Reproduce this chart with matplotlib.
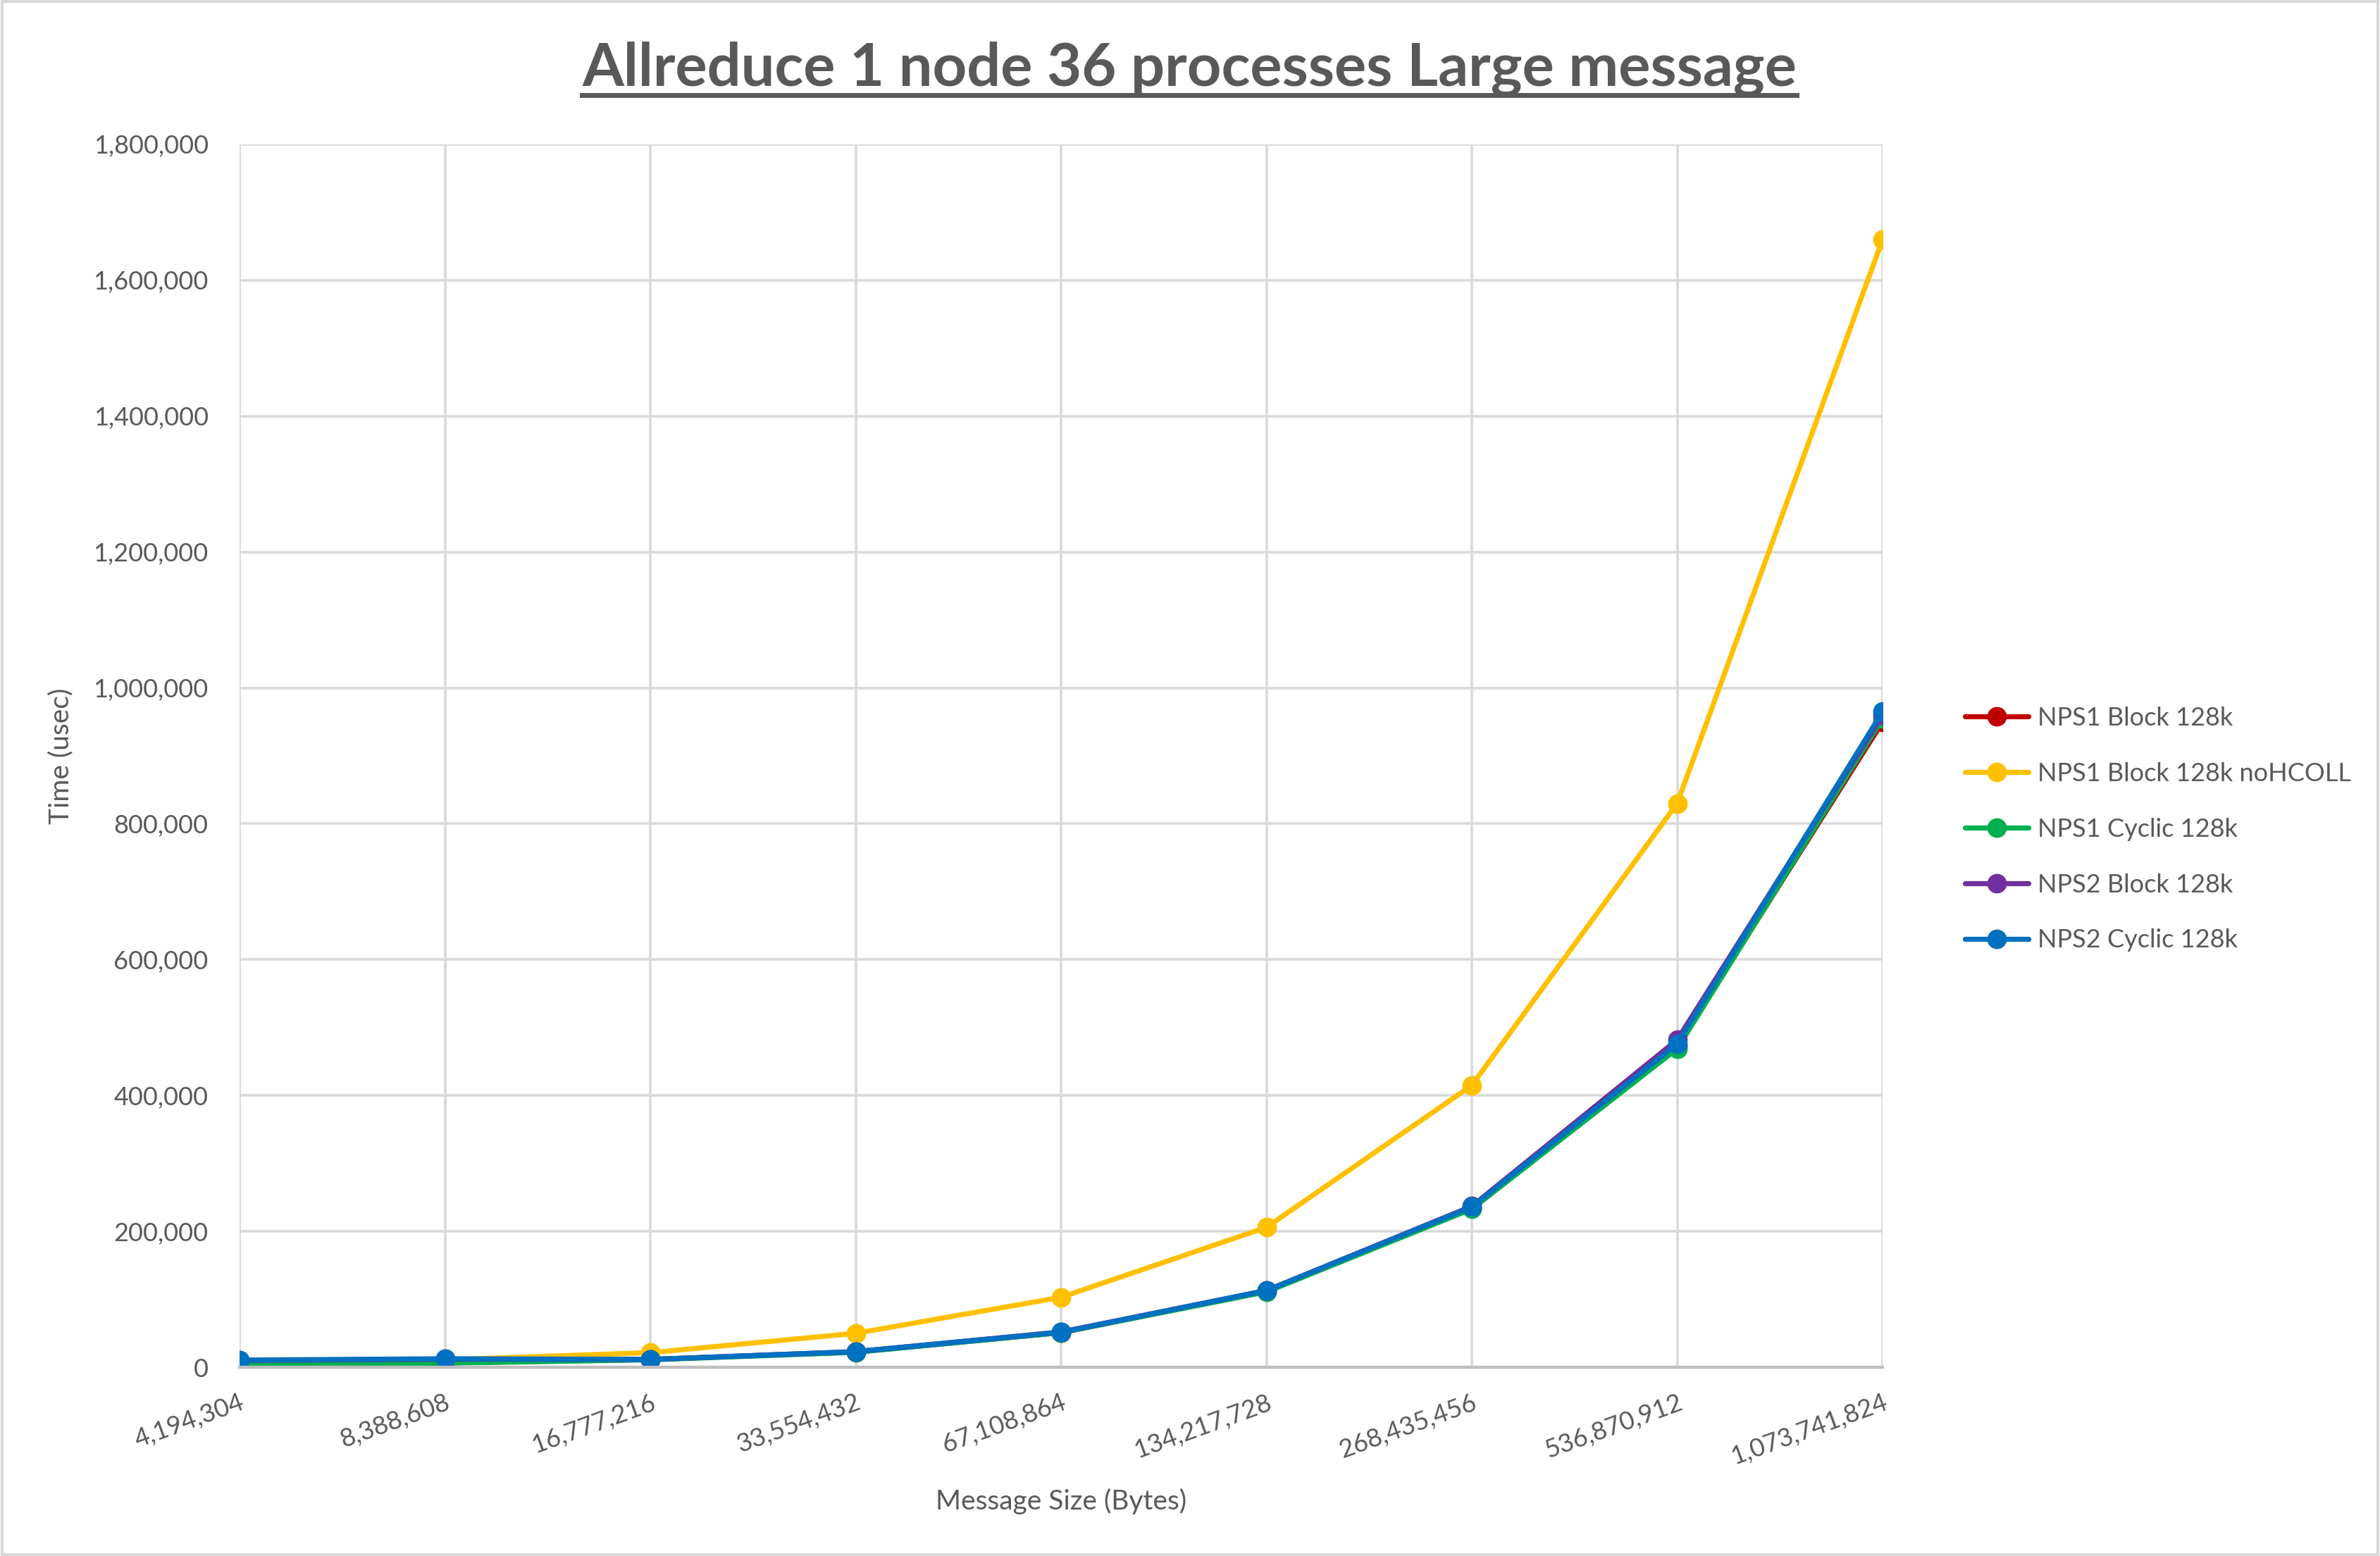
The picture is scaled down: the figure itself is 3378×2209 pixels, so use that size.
import numpy as np
import matplotlib.pyplot as plt
from matplotlib.lines import Line2D
from matplotlib.patches import Rectangle
from matplotlib.ticker import FuncFormatter

plt.rcParams['font.family'] = ['Lato', 'DejaVu Sans']

rozmiary = ["4,194,304", "8,388,608", "16,777,216", "33,554,432", "67,108,864",
            "134,217,728", "268,435,456", "536,870,912", "1,073,741,824"]

nps1_block = [5500, 6500, 11500, 22500, 51000, 112000, 234000, 472000, 950000]
nps1_block_nohcoll = [6000, 11000, 21500, 50000, 103000, 206000, 415000, 830000, 1660000]
nps1_cyclic = [4000, 6000, 11000, 22000, 51000, 111000, 233000, 469000, 955000]
nps2_block = [10000, 12000, 11500, 23000, 52000, 113000, 237000, 482000, 960000]
nps2_cyclic = [10500, 12500, 11500, 23000, 51500, 113000, 236000, 476000, 965000]

serie = [
    ("NPS1 Block 128k", nps1_block, "#C00000"),
    ("NPS1 Block 128k noHCOLL", nps1_block_nohcoll, "#FFC000"),
    ("NPS1 Cyclic 128k", nps1_cyclic, "#00B050"),
    ("NPS2 Block 128k", nps2_block, "#7030A0"),
    ("NPS2 Cyclic 128k", nps2_cyclic, "#0070C0"),
]

szary = "#595959"

fig = plt.figure(figsize=(16.89, 11.045), dpi=200)
ax = fig.add_axes([0.1007, 0.1213, 0.6903, 0.7859])

x = np.arange(len(rozmiary))
for nazwa, wartosci, kolor in serie:
    ax.plot(x, wartosci, color=kolor, lw=2.6, marker="o", ms=9,
            label=nazwa, solid_capstyle="round", solid_joinstyle="round")

ax.set_xlim(0, len(rozmiary) - 1)
ax.set_ylim(0, 1800000)
ax.set_yticks(np.arange(0, 1800001, 200000))
ax.yaxis.set_major_formatter(FuncFormatter(lambda v, p: f"{int(v):,}"))
ax.set_xticks(x)
ax.set_xticklabels(rozmiary, rotation=20, ha="right", rotation_mode="anchor")

ax.grid(True, color="#D9D9D9", lw=1.3)
ax.set_axisbelow(True)
for s in ["top", "right", "left"]:
    ax.spines[s].set_visible(False)
ax.spines["bottom"].set_color("#BFBFBF")
ax.spines["bottom"].set_linewidth(1.6)
ax.tick_params(axis="both", length=0, labelsize=13, labelcolor=szary)
ax.tick_params(axis="y", pad=16)
ax.tick_params(axis="x", pad=12)

ax.set_ylabel("Time (usec)", fontsize=14, color=szary, labelpad=10)
ax.set_xlabel("Message Size (Bytes)", fontsize=14, color=szary, labelpad=10)

leg = ax.legend(loc="center left", bbox_to_anchor=(1.05, 0.44), frameon=False,
                fontsize=13, labelcolor=szary, handlelength=2.5,
                labelspacing=1.27, handletextpad=0.35, borderaxespad=0,
                borderpad=0)

tytul = fig.text(0.4997, 0.945, "Allreduce 1 node 36 processes Large message",
                 ha="center", va="baseline", fontsize=30.5, fontweight="bold",
                 color=szary)

# podkreslenie tytulu
fig.canvas.draw()
bb = tytul.get_window_extent().transformed(fig.transFigure.inverted())
y_line = 0.939
fig.add_artist(Line2D([bb.x0, bb.x1], [y_line, y_line], transform=fig.transFigure,
                      color=szary, lw=2.5))

fig.add_artist(Rectangle((0.001, 0.001), 0.998, 0.998, transform=fig.transFigure,
                         fill=False, edgecolor="#D9D9D9", lw=1.5))

plt.savefig("out.png", dpi=200)
